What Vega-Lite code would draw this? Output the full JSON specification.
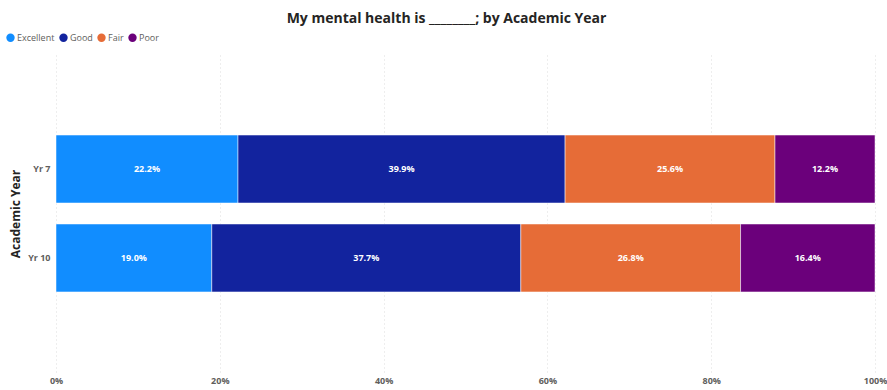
{
  "$schema": "https://vega.github.io/schema/vega-lite/v6.json",
  "width": 819,
  "height": 317,
  "autosize": {"type": "none"},
  "padding": {"left": 56, "top": 55, "right": 12, "bottom": 18},
  "background": "white",
  "config": {"view": {"stroke": null}},
  "title": {
    "text": "My mental health is ________; by Academic Year",
    "anchor": "middle",
    "dx": -19,
    "offset": 7,
    "fontSize": 14,
    "font": "Open Sans",
    "fontWeight": "bold",
    "color": "#252423"
  },
  "data": {
    "values": [
      {"year": "Yr 7", "rating": "Excellent", "ord": 1, "pct": 22.2},
      {"year": "Yr 7", "rating": "Good", "ord": 2, "pct": 39.9},
      {"year": "Yr 7", "rating": "Fair", "ord": 3, "pct": 25.6},
      {"year": "Yr 7", "rating": "Poor", "ord": 4, "pct": 12.2},
      {"year": "Yr 10", "rating": "Excellent", "ord": 1, "pct": 19.0},
      {"year": "Yr 10", "rating": "Good", "ord": 2, "pct": 37.7},
      {"year": "Yr 10", "rating": "Fair", "ord": 3, "pct": 26.8},
      {"year": "Yr 10", "rating": "Poor", "ord": 4, "pct": 16.4}
    ]
  },
  "transform": [
    {"stack": "pct", "groupby": ["year"], "sort": [{"field": "ord", "order": "ascending"}], "offset": "normalize", "as": ["x0", "x1"]},
    {"calculate": "(datum.x0 + datum.x1) / 2", "as": "xm"},
    {"calculate": "format(datum.pct, '.1f') + '%'", "as": "label"}
  ],
  "encoding": {
    "y": {
      "field": "year",
      "type": "nominal",
      "sort": ["Yr 7", "Yr 10"],
      "scale": {"paddingInner": 0.236, "paddingOuter": 0.9},
      "axis": {
        "title": "Academic Year",
        "titleFontSize": 12,
        "titleFont": "Open Sans",
        "titleFontWeight": "bold",
        "titleColor": "#252423",
        "titlePadding": 5,
        "labelFont": "Open Sans",
        "labelFontSize": 9,
        "labelFontWeight": "bold",
        "labelColor": "#605E5C",
        "labelPadding": 6,
        "domain": false,
        "ticks": false,
        "grid": false
      }
    }
  },
  "layer": [
    {
      "mark": {"type": "bar", "stroke": "white", "strokeWidth": 0.5},
      "encoding": {
        "x": {
          "field": "x0",
          "type": "quantitative",
          "scale": {"domain": [0, 1], "nice": false},
          "axis": {
            "title": null,
            "format": ".0%",
            "values": [0, 0.2, 0.4, 0.6, 0.8, 1],
            "labelFont": "Open Sans",
            "labelFontSize": 9,
            "labelFontWeight": "bold",
            "labelColor": "#605E5C",
            "labelPadding": 4,
            "labelFlush": false,
            "domain": false,
            "ticks": false,
            "grid": true,
            "gridColor": "#DDDDDD",
            "gridDash": [1, 3],
            "gridWidth": 1
          }
        },
        "x2": {"field": "x1"},
        "color": {
          "field": "rating",
          "type": "nominal",
          "sort": ["Excellent", "Good", "Fair", "Poor"],
          "scale": {"domain": ["Excellent", "Good", "Fair", "Poor"], "range": ["#118DFF", "#12239E", "#E66C37", "#6B007B"]},
          "legend": {
            "orient": "none",
            "legendX": -50,
            "legendY": -22,
            "direction": "horizontal",
            "title": null,
            "symbolType": "circle",
            "symbolSize": 70,
            "symbolStrokeWidth": 0,
            "labelFont": "Open Sans",
            "labelFontSize": 9,
            "labelColor": "#605E5C",
            "labelOffset": 2,
            "columnPadding": 4
          }
        }
      }
    },
    {
      "mark": {"type": "text", "color": "white", "fontWeight": "bold", "fontSize": 9, "font": "Open Sans"},
      "encoding": {
        "x": {"field": "xm", "type": "quantitative"},
        "text": {"field": "label", "type": "nominal"},
        "detail": {"field": "rating"}
      }
    }
  ]
}
